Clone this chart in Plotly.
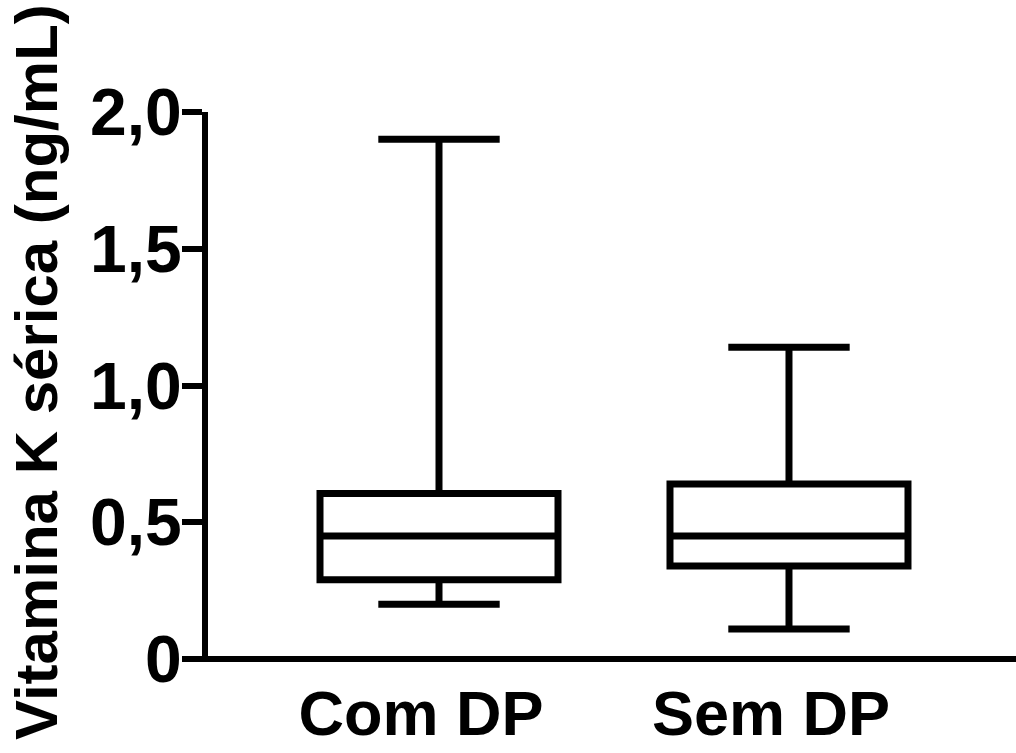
import plotly.graph_objects as go

categories = ["Com DP", "Sem DP"]
minimum = [0.20, 0.11]
q1 = [0.29, 0.34]
median = [0.45, 0.45]
q3 = [0.605, 0.64]
maximum = [1.90, 1.14]

y_tickvals = [0, 0.5, 1.0, 1.5, 2.0]
y_ticktext = ["0", "0,5", "1,0", "1,5", "2,0"]
y_title = "Vitamina K sérica (ng/mL)"

FONT = "Liberation Sans"

fig = go.Figure()
for i, cat in enumerate(categories):
    fig.add_trace(go.Box(
        x=[cat],
        q1=[q1[i]], median=[median[i]], q3=[q3[i]],
        lowerfence=[minimum[i]], upperfence=[maximum[i]],
        width=0.68, whiskerwidth=0.51,
        fillcolor="white",
        line=dict(color="black", width=7),
        boxpoints=False,
        showlegend=False,
        hoverinfo="skip",
    ))

fig.update_layout(
    width=1016, height=753,
    margin=dict(l=208, r=0, t=112, b=91),
    paper_bgcolor="white", plot_bgcolor="white",
    font=dict(family=FONT, color="black"),
    showlegend=False,
)
fig.update_xaxes(
    type="category",
    categoryorder="array", categoryarray=categories,
    range=[-0.66, 1.6486],
    automargin=False,
    showline=False,
    showgrid=False, zeroline=False,
    ticks="",
    ticklabelshift=-18,
    ticklabelstandoff=9,
    tickfont=dict(size=63, family=FONT, weight="bold"),
)
fig.update_yaxes(
    range=[-0.011, 2.0],
    automargin=False,
    tickvals=y_tickvals, ticktext=y_ticktext,
    showline=True, linewidth=6, linecolor="black",
    showgrid=False,
    zeroline=True, zerolinewidth=6, zerolinecolor="black",
    ticks="outside", ticklen=20, tickwidth=6, tickcolor="black",
    ticklabelstandoff=-13,
    tickfont=dict(size=66, family=FONT, weight="bold"),
)
fig.add_annotation(
    text=y_title, textangle=-90,
    xref="paper", yref="paper",
    x=(36 - 208) / 808, y=(662 - 372) / 550,
    xanchor="center", yanchor="middle",
    showarrow=False,
    font=dict(size=60, family=FONT, weight="bold", color="black"),
)

fig.write_html(
    "out.html",
    config={"displayModeBar": False},
    post_script="document.body.style.margin='0';document.body.style.overflow='hidden';",
)
